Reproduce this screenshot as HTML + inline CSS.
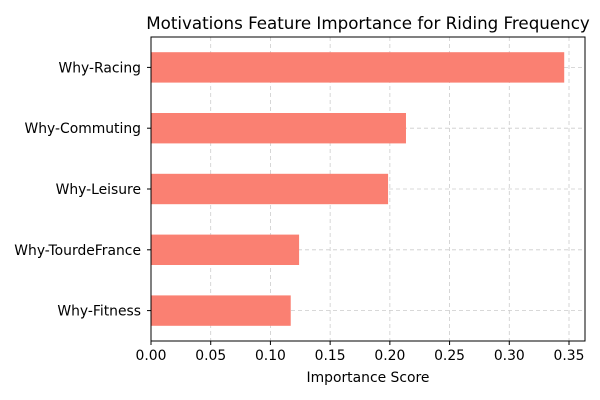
<!DOCTYPE html>
<html><head><meta charset="utf-8">
<style>
body{margin:0;background:#fff;}
svg{display:block;font-family:"DejaVu Sans","Liberation Sans",sans-serif;}
</style></head>
<body>
<svg id="chart" width="600" height="400">
<text x="368" y="29" text-anchor="middle" font-size="16.7" fill="#000">Motivations Feature Importance for Riding Frequency</text>
<g id="grid"></g>
<g id="bars"></g>
<g id="axes"></g>
<text x="368" y="382" text-anchor="middle" font-size="13.9" fill="#000">Importance Score</text>
</svg>
<script>
const categories = ["Why-Racing","Why-Commuting","Why-Leisure","Why-TourdeFrance","Why-Fitness"];
const values = [0.346, 0.2135, 0.1985, 0.124, 0.117];
const xTicks = [0,0.05,0.10,0.15,0.20,0.25,0.30,0.35];
const xTickLabels = ["0.00","0.05","0.10","0.15","0.20","0.25","0.30","0.35"];

const L=151,R=585,T=37,B=341,xMax=0.3634;
const NS="http://www.w3.org/2000/svg";
const xs=v=>L+v/xMax*(R-L);
const step=(B-T)/categories.length;
const yc=i=>T+step*(i+0.5);
function mk(tag,attrs,parent){const e=document.createElementNS(NS,tag);for(const k in attrs)e.setAttribute(k,attrs[k]);parent.appendChild(e);return e;}
const grid=document.getElementById('grid'),bars=document.getElementById('bars'),axes=document.getElementById('axes');
xTicks.forEach((t,i)=>{
  const x=xs(t);
  const g=mk('line',{x1:x,x2:x,y1:T,y2:B,stroke:'#ccc','stroke-dasharray':'4,3','stroke-width':0.8},grid);
  
  
  mk('line',{x1:x,x2:x,y1:B,y2:B+4,stroke:'#000'},axes);
  const tx=mk('text',{x:x,y:B+19,'text-anchor':'middle','font-size':13.9},axes);
  tx.textContent=xTickLabels[i];
  
  
});
categories.forEach((c,i)=>{
  const y=yc(i);
  const g=mk('line',{x1:L,x2:R,y1:y,y2:y,stroke:'#ccc','stroke-dasharray':'4,3','stroke-width':0.8},grid);
  
  
  const h=step*0.5;
  const b=mk('rect',{x:L,y:y-h/2,width:xs(values[i])-L,height:h,fill:'#fa8072'},bars);
  
  
  mk('line',{x1:L-4,x2:L,y1:y,y2:y,stroke:'#000'},axes);
  const tx=mk('text',{x:L-10,y:y+5,'text-anchor':'end','font-size':13.9},axes);
  tx.textContent=c;
  
  
});
const frame=mk('rect',{x:L,y:T,width:R-L,height:B-T,fill:'none',stroke:'#000','stroke-width':1},axes);


</script>
</body></html>
